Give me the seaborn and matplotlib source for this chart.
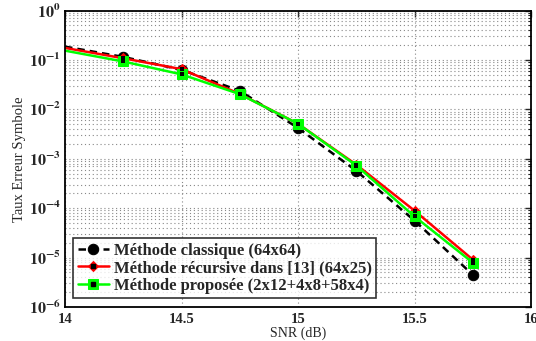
import numpy as np
import pandas as pd
import matplotlib
matplotlib.use("Agg")
import matplotlib.pyplot as plt
import seaborn as sns
from matplotlib.ticker import FuncFormatter, LogLocator, NullFormatter, MultipleLocator
from matplotlib.legend_handler import HandlerTuple

snr = [14.0, 14.25, 14.5, 14.75, 15.0, 15.25, 15.5, 15.75]
ser_classique = [0.186, 0.115, 0.063, 0.0237, 0.0042, 5.7e-4, 5.6e-5, 4.5e-6]
ser_recursive = [0.175, 0.108, 0.065, 0.0205, 0.0051, 7.6e-4, 8.9e-5, 9.1e-6]
ser_proposee = [0.154, 0.093, 0.051, 0.0203, 0.0051, 7.3e-4, 6.8e-5, 7.9e-6]
labels = ["Méthode classique (64x64)",
          "Méthode récursive dans [13] (64x25)",
          "Méthode proposée (2x12+4x8+58x4)"]

sns.set_theme(style="white")
plt.rcParams['font.family'] = ['Liberation Serif', 'DejaVu Serif']
plt.rcParams['mathtext.fontset'] = 'stix'

fig = plt.figure(figsize=(5.36, 3.41), dpi=100)
ax = fig.add_axes([65/536, 1-307/341, (531-65)/536, (307-10.5)/341])

styles = [
    dict(y=ser_classique, color='black', ls=(0, (3, 2)), marker='o', ms=7.5, dot=False),
    dict(y=ser_recursive, color='#ff0000', ls='-', marker='D', ms=5.5, dot=True),
    dict(y=ser_proposee, color='#00ff00', ls='-', marker='s', ms=6.5, dot=True),
]
handles = []
for st, lab in zip(styles, labels):
    df = pd.DataFrame({'snr': snr, 'ser': st['y']})
    sns.lineplot(data=df, x='snr', y='ser', ax=ax, color=st['color'], lw=1.8,
                 marker=st['marker'], markersize=st['ms'], markerfacecolor=st['color'],
                 markeredgecolor=st['color'], legend=False, markevery=slice(1, None))
    line = ax.lines[-1]
    line.set_linestyle(st['ls'])
    h = [line]
    if st['dot']:
        sns.scatterplot(data=df.iloc[1:], x='snr', y='ser', ax=ax, color='black', marker='s',
                        s=5, linewidth=0, legend=False, zorder=5)
        h.append(plt.Line2D([], [], ls='none', marker='s', ms=2.2, color='black'))
    handles.append(tuple(h))

ax.set_yscale('log')
ax.set_xlim(14, 16)
ax.set_ylim(1e-6, 1)
ax.xaxis.set_major_locator(MultipleLocator(0.5))
ax.xaxis.set_major_formatter(FuncFormatter(lambda v, p: f"{v:g}"))
ax.yaxis.set_major_locator(LogLocator(base=10, numticks=10))
ax.yaxis.set_minor_locator(LogLocator(base=10, subs=np.arange(2, 10), numticks=100))
ax.yaxis.set_minor_formatter(NullFormatter())
ax.yaxis.set_major_formatter(FuncFormatter(lambda v, p: r'$\mathbf{10^{%d}}$' % int(round(np.log10(v)))))

ax.grid(True, which='major', axis='both', ls=(0, (1, 2.5)), color='#888888', lw=0.8)
ax.grid(True, which='minor', axis='y', ls=(0, (1, 2.5)), color='#888888', lw=0.8)
for s in ax.spines.values():
    s.set_linewidth(1.3)
    s.set_color('black')
ax.tick_params(which='both', direction='in', top=True, right=True)
ax.tick_params(axis='x', labelsize=10.5, pad=4)
ax.tick_params(axis='y', labelsize=11.5, pad=3)
ax.tick_params(which='major', length=4, width=1)
ax.tick_params(which='minor', length=2, width=0.8)
for t in ax.get_xticklabels():
    t.set_fontweight('bold')

ax.set_xlabel('SNR (dB)', fontsize=10, labelpad=0.5)
ax.set_ylabel('Taux Erreur Symbole', fontsize=10.5, labelpad=2)

leg = ax.legend(handles, labels, loc='lower left', bbox_to_anchor=(0.018, 0.03),
                prop={'weight': 'bold', 'size': 12, 'family': 'Liberation Serif'},
                handler_map={tuple: HandlerTuple(ndivide=1, pad=0)},
                handlelength=1.9, handletextpad=0.3, labelspacing=0.1,
                borderpad=0.25, borderaxespad=0, frameon=True, fancybox=False)
leg.get_frame().set_edgecolor('black')
leg.get_frame().set_linewidth(1.2)

fig.savefig('out.png', dpi=100)
